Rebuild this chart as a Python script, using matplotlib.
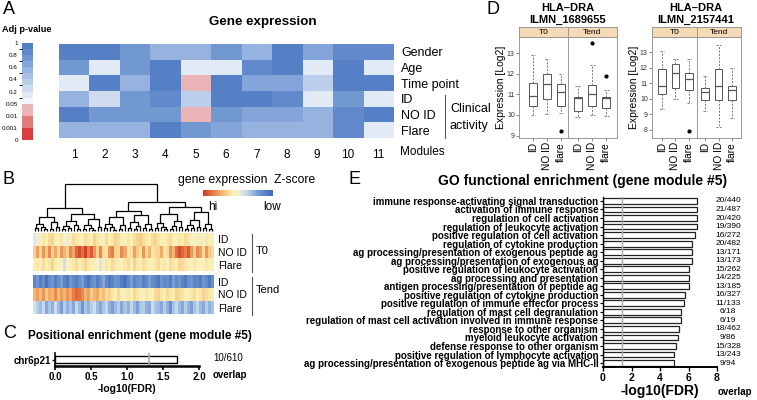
import numpy as np
import matplotlib
matplotlib.use('Agg')
import matplotlib.pyplot as plt
from matplotlib.colors import ListedColormap, BoundaryNorm, LinearSegmentedColormap, Normalize
from matplotlib.lines import Line2D
from matplotlib.colorbar import ColorbarBase

W, H = 757, 400
plt.rcParams['font.family'] = ['Liberation Sans', 'DejaVu Sans']

# ---------------- data ----------------
# Panel A: module-trait adjusted p-values
modules = [str(i) for i in range(1, 12)]
traits = ['Gender', 'Age', 'Time point', 'ID', 'NO ID', 'Flare']
pval_gender = [0.9, 0.9, 0.75, 0.5, 0.5, 0.7, 0.55, 0.95, 0.65, 0.85, 0.85]
pval_age = [0.7, 0.18, 0.75, 0.9, 0.18, 0.18, 0.8, 0.9, 0.18, 0.9, 0.18]
pval_time = [0.18, 0.9, 0.55, 0.9, 0.03, 0.9, 0.6, 0.62, 0.3, 0.9, 0.9]
pval_id = [0.5, 0.25, 0.75, 0.8, 0.35, 0.9, 0.9, 0.8, 0.18, 0.7, 0.18]
pval_noid = [0.9, 0.7, 0.7, 0.75, 0.03, 0.78, 0.6, 0.65, 0.5, 0.85, 0.9]
pval_flare = [0.5, 0.5, 0.5, 0.9, 0.7, 0.65, 0.5, 0.5, 0.5, 0.82, 0.18]
pval_breaks = [0, 0.001, 0.01, 0.05, 0.2, 0.4, 0.6, 0.8, 1.0]
pval_ticklabels = ['0', '0.001', '0.01', '0.05', '0.2', '0.4', '0.6', '0.8', '1']

# Panel B: Z-scores of module genes
t0_id = [-0.2, -0.1, 0.3, 0.4, 0.2, 0.5, 0.6, 0.3, 0.2, 0.4,
         0.1, -0.1, 0.3, 0.5, 0.4, 0.3, 0.2, 0.5, 0.4, 0.3,
         0.6, 0.4, 0.3, 0.2, 0.5, 0.3, 0.4, 0.6, 0.5, 0.3,
         0.2, 0.4, 0.3, 0.5, 0.6, 0.7, 0.5, 0.4, 0.3, 0.5,
         0.6, 0.4, 0.3, 0.2, 0.4, 0.5, 0.3, 0.2, 0.4, 0.3,
         0.5, 0.4, 0.2, 0.1, 0.3, -0.1, 0.2, 0.4, 0.3, 0.2]
t0_noid = [0.6, 1.1, 0.5, 1.2, 0.7, 1.3, 0.6, 1.0, 0.5, 1.2,
           0.9, 0.6, 1.3, 1.0, 1.6, 1.8, 1.5, 1.9, 1.4, 1.7,
           1.2, 0.6, 1.3, 0.5, 0.4, 1.2, 1.4, 0.6, 0.5, 1.3,
           1.0, 0.4, 0.5, 1.1, 0.7, 0.4, 1.2, 0.5, 0.9, 0.4,
           0.5, 0.6, 1.0, 0.4, 0.5, 1.2, 0.9, 1.5, 1.8, 1.6,
           1.4, 1.7, 1.2, 0.6, 1.3, 1.1, 0.5, 1.2, 0.7, 0.5]
t0_flare = [0.3, 0.4, 0.2, 0.5, 0.3, 0.4, 0.6, 0.3, 0.2, 0.1,
            -0.4, 0.2, 0.3, 0.4, 0.5, 0.3, 0.4, 0.6, 0.4, 0.3,
            0.2, 0.1, -0.3, 0.2, 0.4, 0.3, 0.5, 0.4, 0.3, 0.2,
            0.4, 0.5, 0.3, 0.6, 0.4, 0.3, 0.5, 0.4, 0.3, 0.2,
            0.4, 0.5, 0.3, 0.4, 0.2, 0.5, 0.4, 0.3, 0.6, 0.5,
            0.4, 0.3, 0.2, 0.4, 0.3, 0.1, 0.2, 0.4, 0.3, 0.2]
tend_id = [-1.5, -1.2, -1.6, -1.3, -1.8, -1.4, -1.2, -1.6, -1.3, -1.1,
           -1.5, -1.7, -1.2, -1.4, -1.6, -1.3, -1.1, -1.5, -1.8, -1.4,
           -1.2, -1.6, -1.3, -1.0, -1.4, -1.7, -1.5, -1.2, -1.3, -1.6,
           -1.8, -1.4, -1.1, -1.5, -1.3, -1.2, -1.6, -1.4, -1.1, -1.3,
           -1.5, -1.7, -1.2, -1.4, -1.3, -1.6, -1.1, -1.4, -1.2, -1.5,
           -1.7, -1.3, -1.2, -1.5, -1.4, -1.6, -1.2, -1.4, -1.7, -1.3]
tend_noid = [0.9, 1.1, 0.8, 1.2, 0.7, 1.0, 0.9, 1.3, 0.8, 1.1,
             0.9, 1.2, 1.0, 1.4, 1.6, 1.5, 1.3, 0.9, 1.1, 0.7,
             0.9, 1.0, 0.6, 0.8, 0.5, 0.6, 0.4, 0.3, 0.5, 0.3,
             0.2, 0.4, 0.3, 0.5, 0.4, 0.3, 0.2, 0.4, 0.3, 0.2,
             0.5, 0.6, 0.4, 0.3, 0.5, 0.4, 0.3, 0.6, 0.5, 0.4,
             0.3, 0.2, 0.4, 0.5, 0.3, 0.4, 0.6, 0.5, 0.4, 0.3]
tend_flare = [-0.3, -0.6, -0.8, -0.5, -1.0, -0.7, -0.9, -0.4, -0.8, -1.1,
              -0.6, -0.9, -0.7, -1.0, -0.5, -0.8, -1.2, -0.7, -0.9, -0.6,
              -0.4, -0.8, -1.0, -0.7, -0.5, -0.9, -1.1, -0.8, -0.6, -1.0,
              -0.7, -0.9, -0.5, -0.8, -1.1, -0.7, -0.6, -0.9, -1.0, -0.4,
              -0.7, -0.8, -1.0, -0.6, -0.9, -1.3, -0.7, -0.5, -0.8, -1.0,
              -0.6, -0.9, -1.1, -0.7, -0.5, -0.8, -1.0, -0.6, -0.9, -0.7]
b_rows = ['ID', 'NO ID', 'Flare']
# gene clustering tree: (height, left, right); 0 = leaf
LL = (0.30, (0.16, (0.06, 0, 0), (0.09, 0, (0.04, 0, 0))), (0.20, (0.05, 0, 0), (0.08, 0, 0)))
LR = (0.36, (0.22, (0.10, (0.05, 0, 0), (0.06, 0, 0)), (0.13, 0, (0.05, 0, 0))),
      (0.26, (0.12, (0.04, 0, 0), (0.07, 0, (0.03, 0, 0))), (0.09, 0, 0)))
RL1 = (0.30, (0.15, (0.06, 0, 0), (0.08, 0, (0.03, 0, 0))), (0.12, (0.05, 0, 0), 0))
RL2 = (0.34, (0.20, (0.07, 0, 0), (0.10, (0.04, 0, 0), 0)), (0.14, (0.06, 0, 0), (0.05, 0, 0)))
RR1 = (0.36, (0.18, (0.07, 0, 0), (0.09, 0, (0.04, 0, 0))), (0.22, (0.10, (0.05, 0, 0), 0), (0.08, 0, 0)))
RR2 = (0.40, (0.24, (0.12, (0.05, 0, 0), (0.06, 0, 0)), (0.08, 0, 0)), (0.16, (0.07, 0, 0), (0.05, 0, 0)))
gene_tree = (1.0, (0.49, LL, LR), (0.62, (0.42, RL1, RL2), (0.52, RR1, RR2)))

# Panel C
pos_terms = ['chr6p21']
pos_fdr = [1.7]
pos_overlap = ['10/610']

# Panel D: box statistics [whislo, q1, med, q3, whishi]
groups = ['ID', 'NO ID', 'flare']
g1_t0 = [[10.0, 10.45, 10.9, 11.55, 12.9], [10.05, 10.75, 11.5, 12.0, 12.7], [10.1, 10.45, 11.1, 11.5, 12.0]]
g1_t0_out = [[], [], [9.2]]
g1_tend = [[9.9, 10.2, 10.8, 10.85, 11.4], [10.0, 10.45, 11.0, 11.45, 12.4], [9.95, 10.35, 10.8, 10.85, 11.2]]
g1_tend_out = [[], [13.5], [11.9]]
g2_t0 = [[9.35, 10.3, 10.8, 11.9, 13.1], [10.0, 10.7, 11.7, 12.25, 12.6], [9.75, 10.6, 11.3, 11.65, 12.6]]
g2_t0_out = [[], [], [7.9]]
g2_tend = [[9.2, 9.95, 10.45, 10.7, 11.45], [8.2, 9.95, 10.85, 11.9, 13.5], [8.8, 9.95, 10.6, 10.85, 12.0]]
g2_tend_out = [[], [], []]

# Panel E
go_terms = ['immune response-activating signal transduction',
            'activation of immune response',
            'regulation of cell activation',
            'regulation of leukocyte activation',
            'positive regulation of cell activation',
            'regulation of cytokine production',
            'ag processing/presentation of exogenous peptide ag',
            'ag processing/presentation of exogenous ag',
            'positive regulation of leukocyte activation',
            'ag processing and presentation',
            'antigen processing/presentation of peptide ag',
            'positive regulation of cytokine production',
            'positive regulation of immune effector process',
            'regulation of mast cell degranulation',
            'regulation of mast cell activation involved in immune response',
            'response to other organism',
            'myeloid leukocyte activation',
            'defense response to other organism',
            'positive regulation of lymphocyte activation',
            'ag processing/presentation of exogenous peptide ag via MHC-II']
go_fdr = [6.6, 6.6, 6.6, 6.6, 6.45, 6.25, 6.25, 6.25, 6.05, 6.0,
          6.0, 5.75, 5.65, 5.5, 5.45, 5.35, 5.25, 5.1, 5.0, 5.0]
go_overlap = ['20/440', '21/487', '20/420', '19/390', '16/272', '20/482', '13/171', '13/173',
              '15/262', '14/225', '13/185', '16/327', '11/133', '6/18', '6/19', '18/462',
              '9/86', '15/328', '13/243', '9/94']
fdr_cut = 1.3

# ---------------- helpers ----------------
fig = plt.figure(figsize=(W / 100, H / 100), dpi=100)


def ax_px(x0, y0, x1, y1, **kw):
    return fig.add_axes([x0 / W, 1 - y1 / H, (x1 - x0) / W, (y1 - y0) / H], **kw)


def txt(x, y, s, **kw):
    return fig.text(x / W, 1 - y / H, s, **kw)


def fline(xs, ys, **kw):
    fig.add_artist(Line2D([x / W for x in xs], [1 - y / H for y in ys], **kw))


# ---------------- Panel A ----------------
txt(3, 9, 'A', fontsize=13, va='center', ha='left')
txt(2, 30, 'Adj p-value', fontsize=6.6, fontweight='bold', va='center', ha='left')
txt(263, 22, 'Gene expression', fontsize=9.6, fontweight='bold', va='center', ha='center')

colsA = ['#d93d3d', '#e07b7b', '#ebb5b8', '#f3f6fb', '#e2eaf6', '#cfdcf0', '#bccfea',
         '#a9c1e5', '#96b3df', '#83a5d9', '#7298d2', '#6289cb', '#5580c5']
boundsA = [0, 1, 2, 3, 3.5, 4, 4.5, 5, 5.5, 6, 6.5, 7, 7.5, 8]
cmapA = ListedColormap(colsA)
normA = BoundaryNorm(boundsA, cmapA.N)

caxA = ax_px(22, 43, 33, 140)
cbA = ColorbarBase(caxA, cmap=cmapA, norm=normA, orientation='vertical', spacing='proportional')
cbA.outline.set_visible(False)
caxA.yaxis.set_ticks_position('left')
caxA.set_yticks(range(9))
caxA.set_yticklabels(pval_ticklabels, fontsize=4.5)
caxA.tick_params(length=0, pad=3)

matA = np.array([pval_gender, pval_age, pval_time, pval_id, pval_noid, pval_flare])
posA = np.interp(matA, pval_breaks, np.arange(9))
axA = ax_px(59, 44, 393, 138)
axA.imshow(posA, cmap=cmapA, norm=normA, aspect='auto', interpolation='nearest')
for s in axA.spines.values():
    s.set_visible(False)
axA.set_xticks(range(len(modules)))
axA.set_xticklabels(modules, fontsize=8.5)
axA.set_yticks(range(len(traits)))
axA.set_yticklabels(traits, fontsize=9)
axA.yaxis.tick_right()
axA.tick_params(length=0)
axA.tick_params(axis='x', pad=8)
axA.tick_params(axis='y', pad=6)
txt(400, 152, 'Modules', fontsize=8.5, va='center', ha='left')
fline([445, 445], [95, 138], color='#555555', lw=0.8)
txt(450, 109, 'Clinical', fontsize=9, va='center', ha='left')
txt(450, 126, 'activity', fontsize=9, va='center', ha='left')

# ---------------- Panel B ----------------
txt(3, 180, 'B', fontsize=13, va='center', ha='left')
nleaf = len(t0_id)
axD = ax_px(33, 183, 214, 232)


def draw_tree(ax, node, counter):
    if node == 0:
        x = counter[0] + 0.5
        counter[0] += 1
        return x, 0.0
    h, left, right = node
    xl, hl = draw_tree(ax, left, counter)
    xr, hr = draw_tree(ax, right, counter)
    ax.plot([xl, xl, xr, xr], [hl, h, h, hr], color='black', lw=0.9, solid_capstyle='butt')
    return (xl + xr) / 2, h


draw_tree(axD, gene_tree, [0])
axD.set_xlim(0, nleaf)
axD.set_ylim(-0.02, 1.02)
axD.axis('off')

cmapB = LinearSegmentedColormap.from_list('zs', [(0.0, '#3d6ab5'), (0.2, '#6f96cf'), (0.38, '#c5d9ee'),
                                                 (0.5, '#f7f3d0'), (0.58, '#fbeeb0'), (0.72, '#f4b872'),
                                                 (0.85, '#e8804a'), (1.0, '#cc3a25')])
normB = Normalize(-2, 2)
for rows, (y0, y1) in [([t0_id, t0_noid, t0_flare], (233, 271)), ([tend_id, tend_noid, tend_flare], (275, 314))]:
    axb = ax_px(33, y0, 214, y1)
    axb.imshow(np.array(rows), cmap=cmapB, norm=normB, aspect='auto', interpolation='nearest')
    axb.set_xticks([])
    axb.set_yticks(range(3))
    axb.set_yticklabels(b_rows, fontsize=7.5)
    axb.yaxis.tick_right()
    axb.tick_params(length=0, pad=3)
    for s in axb.spines.values():
        s.set_visible(False)
fline([252, 252], [234, 272], color='#555555', lw=0.8)
fline([252, 252], [277, 315], color='#555555', lw=0.8)
txt(256, 251, 'T0', fontsize=8, va='center', ha='left')
txt(256, 290, 'Tend', fontsize=8, va='center', ha='left')

txt(178, 180, 'gene expression  Z-score', fontsize=8.7, va='center', ha='left')
caxB = ax_px(203, 190, 273, 196)
cbB = ColorbarBase(caxB, cmap=cmapB.reversed(), norm=normB, orientation='horizontal')
cbB.outline.set_visible(False)
caxB.set_xticks([])
txt(208, 207, 'hi', fontsize=8.5, va='center', ha='left')
txt(263, 207, 'low', fontsize=8.5, va='center', ha='left')

# ---------------- Panel C ----------------
txt(3, 333, 'C', fontsize=13, va='center', ha='left')
txt(28, 336, 'Positional enrichment (gene module #5)', fontsize=8.5, fontweight='bold', va='center', ha='left')
axC = ax_px(55, 353, 199, 366)
axC.barh(range(len(pos_terms)), pos_fdr, height=0.72, color='white', edgecolor='black', lw=1.0)
axC.axvline(fdr_cut, color='#aaaaaa', lw=1.2)
axC.set_xlim(0, 2.0)
axC.set_ylim(-0.6, 0.6)
axC.set_xticks([0.0, 0.5, 1.0, 1.5, 2.0])
axC.set_xticklabels(['0.0', '0.5', '1.0', '1.5', '2.0'], fontsize=7, fontweight='bold')
axC.set_yticks(range(len(pos_terms)))
axC.set_yticklabels(pos_terms, fontsize=7, fontweight='bold')
axC.spines['top'].set_visible(False)
axC.spines['right'].set_visible(False)
axC.spines['bottom'].set_linewidth(1.8)
axC.spines['left'].set_linewidth(1.2)
axC.tick_params(axis='x', length=3, width=1.2, pad=1)
axC.tick_params(axis='y', length=2, width=1, pad=1)
axC.set_xlabel('-log10(FDR)', fontsize=7.5, fontweight='bold', labelpad=2)
for i, s in enumerate(pos_overlap):
    txt(213, 358 + i * 10, s, fontsize=7, va='center', ha='left')
txt(213, 375, 'overlap', fontsize=7, fontweight='bold', va='center', ha='left')

# ---------------- Panel D ----------------
txt(487, 10, 'D', fontsize=13, va='center', ha='left')


def stats(rows, outs):
    return [dict(whislo=r[0], q1=r[1], med=r[2], q3=r[3], whishi=r[4], fliers=o) for r, o in zip(rows, outs)]


def facet(x0, x1, xlim, ylim, rows, outs, label, first):
    ax = ax_px(x0, 37, x1, 138)
    ax.bxp(stats(rows, outs), positions=[1, 2, 3], widths=0.55, patch_artist=True, showfliers=True,
           boxprops=dict(facecolor='white', edgecolor='#555555', lw=0.7),
           medianprops=dict(color='#555555', lw=0.9),
           whiskerprops=dict(color='#777777', lw=0.7, ls=(0, (2, 1.5))),
           capprops=dict(color='#777777', lw=0.7, ls=(0, (2, 1.5))),
           capwidths=0.35,
           flierprops=dict(marker='o', markersize=2, markerfacecolor='black', markeredgecolor='black'))
    ax.set_xlim(*xlim)
    ax.set_ylim(*ylim)
    for s in ax.spines.values():
        s.set_color('#999999')
        s.set_linewidth(0.7)
    ax.set_xticks([1, 2, 3])
    ax.set_xticklabels(groups, rotation=90, fontsize=7.3)
    ax.tick_params(axis='x', length=2, width=0.6, color='#777777', pad=1)
    if first:
        ax.tick_params(axis='y', labelsize=5, length=2, width=0.6, color='#777777', pad=1, labelcolor='#333333')
        ax.set_ylabel('Expression [Log2]', fontsize=7.5, labelpad=1)
    else:
        ax.tick_params(axis='y', left=False, labelleft=False)
    sax = ax_px(x0, 27, x1, 37)
    sax.set_facecolor('#f6dab5')
    sax.set_xticks([])
    sax.set_yticks([])
    for s in sax.spines.values():
        s.set_color('#999999')
        s.set_linewidth(0.7)
    sax.text(0.5, 0.45, label, fontsize=6, ha='center', va='center', transform=sax.transAxes)
    return ax


axd1 = facet(519, 568, (0.0, 3.5), (8.88, 13.78), g1_t0, g1_t0_out, 'T0', True)
axd1.set_yticks([9, 10, 11, 12, 13])
facet(568, 617, (0.3, 3.75), (8.88, 13.78), g1_tend, g1_tend_out, 'Tend', False)
txt(568, 8, 'HLA–DRA', fontsize=8, fontweight='bold', ha='center', va='center')
txt(568, 20, 'ILMN_1689655', fontsize=8, fontweight='bold', ha='center', va='center')

axd2 = facet(652, 697, (0.26, 3.6), (7.48, 13.99), g2_t0, g2_t0_out, 'T0', True)
axd2.set_yticks([8, 9, 10, 11, 12, 13])
facet(697, 741, (0.4, 3.66), (7.48, 13.99), g2_tend, g2_tend_out, 'Tend', False)
txt(696, 8, 'HLA–DRA', fontsize=8, fontweight='bold', ha='center', va='center')
txt(696, 20, 'ILMN_2157441', fontsize=8, fontweight='bold', ha='center', va='center')

# ---------------- Panel E ----------------
txt(348, 180, 'E', fontsize=13, va='center', ha='left')
txt(583, 181, 'GO functional enrichment (gene module #5)', fontsize=10, fontweight='bold', ha='center', va='center')
axE = ax_px(603, 196.7, 717, 367.3)
yE = np.arange(len(go_terms))
axE.barh(yE, go_fdr, height=0.68, color='white', edgecolor='#222222', lw=0.9)
axE.axvline(fdr_cut, color='#aaaaaa', lw=1.0)
axE.set_xlim(0, 8)
axE.set_ylim(len(go_terms) - 0.5, -0.5)
axE.set_yticks(yE)
axE.set_yticklabels(go_terms, fontsize=7.0, fontweight='bold')
axE.set_xticks([0, 2, 4, 6, 8])
axE.set_xticklabels(['0', '2', '4', '6', '8'], fontsize=7.5, fontweight='bold')
axE.spines['top'].set_visible(False)
axE.spines['right'].set_visible(False)
axE.spines['bottom'].set_linewidth(1.4)
axE.spines['left'].set_linewidth(1.0)
axE.tick_params(axis='y', length=2.5, width=0.8, pad=1)
axE.tick_params(axis='x', length=3, width=1.0, pad=1)
axE.set_xlabel('-log10(FDR)', fontsize=10, fontweight='bold', labelpad=1)
for i, s in enumerate(go_overlap):
    txt(728, 201 + i * 8.53, s, fontsize=6, ha='center', va='center')
txt(735, 392, 'overlap', fontsize=7, fontweight='bold', ha='center', va='center')

fig.savefig('out.png', dpi=100)
